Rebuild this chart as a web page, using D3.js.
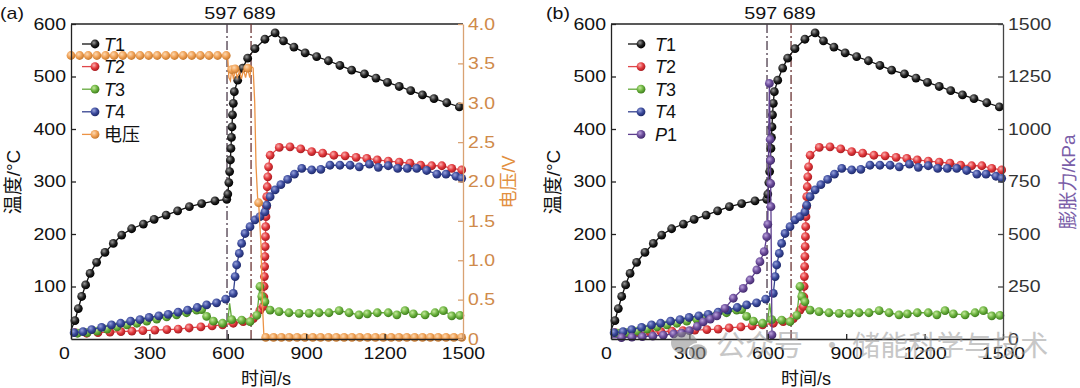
<!DOCTYPE html>
<html><head><meta charset="utf-8">
<script src="https://cdn.jsdelivr.net/npm/d3@7/dist/d3.min.js"></script>
<style>
body{margin:0;background:#fff}
svg{display:block}
text{font-family:"Liberation Sans",Arial,"Noto Sans CJK SC",sans-serif}
</style>
</head><body>
<svg id="chart" width="1080" height="388"></svg>
<script>
// time (s), value, optional 0 = no marker
var T1 = [[0,17,0],[15,35],[28,58],[41,81],[56,103],[73,125],[98,146],[130,165],[162,182],[194,198],[232,210],[277,219],[318,228],[364,236],[408,244],[453,252],[500,258],[551,263],[596,266],
  [600,276],[604,298],[607,319],[610,341],[612,363],[614,384],[616,404],[618,427],[621,449],[625,471],[638,493],[657,516],[676,535],[704,553],[742,571],[781,583],
  [813,568],[853,556],[896,545],[940,538],[985,530],[1029,521],[1074,512],[1123,505],[1167,497],[1211,489],[1256,481],[1300,473],[1345,465],[1389,458],[1438,450],[1486,442],[1500,440,0]];
var T2 = [[0,12,0],[15,12],[60,11],[103,12],[149,13],[191,14],[233,15],[275,16],[321,17],[367,18],[410,19],[452,21],[497,23],[540,25],[580,27],[621,30],[659,33],[698,39],[723,55],
  [736,62],[738,80],[739,100],[740,119],[741,138],[742,157],[743,176],[744,195],[745,214],[746,233],[748,252],[749,271],[751,290],[753,309],[756,328],[762,350],
  [797,365],[838,366],[879,362],[921,357],[963,354],[1006,350],[1049,349],[1091,346],[1132,344],[1172,341],[1214,339],[1256,337],[1297,335],[1338,331],[1380,330],[1419,330],[1457,325],[1495,322],[1500,321,0]];
var T3 = [[0,10,0],[25,11],[62,12],[100,15],[138,19],[176,23],[214,27],[252,30],[290,34],[328,38],[366,42],[404,46],[442,50],[481,55],[500,56],[519,43],[545,34],[580,30],[600,33,0],[607,68,0],[615,37],[653,36],[685,33],[711,45],[723,100],[730,81],[742,71],
  [762,55],[796,52],[834,50],[873,49],[911,49],[949,50],[987,50],[1026,54],[1064,50],[1102,46],[1134,48],[1172,50],[1214,50],[1247,46],[1278,54],[1310,48],[1355,46],[1393,50],[1425,54],[1457,44],[1488,45],[1500,45,0]];
var T4 = [[0,10,0],[12,12],[46,14],[79,18],[117,22],[155,27],[190,30],[228,34],[264,37],[299,41],[336,44],[372,47],[410,51],[446,55],[483,60],[519,65],[557,69],[592,76],[621,87],[628,119],[634,141],[644,163],[653,182],[666,201],[685,214],[704,227],[723,233],[742,242],[749,255],[762,271],[781,284],[803,294],[829,304],[855,314],
  [883,325],[921,322],[956,323],[991,331],[1029,331],[1068,331],[1103,328],[1142,333],[1176,327],[1214,330],[1250,325],[1287,325],[1323,325],[1361,321],[1400,314],[1435,314],[1473,310],[1495,306],[1500,305,0]];
var voltage = [[0,3.6],[33,3.6],[66,3.6],[99,3.6],[132,3.6],[165,3.6],[198,3.6],[231,3.6],[264,3.6],[297,3.6],[330,3.6],[363,3.6],[396,3.6],[429,3.6],[462,3.6],[495,3.6],[528,3.6],[561,3.6],[594,3.6],
  [600,3.56,0],[604,3.32,0],[610,3.28,0],[615,3.42],[622,3.3,0],[628,3.43],[636,3.32,0],[645,3.4,0],[652,3.3,0],[660,3.42,0],[668,3.32,0],[676,3.44],[684,3.32,0],[690,3.46,0],[697,3.44,0],[703,3.0,0],[708,2.2,0],[714,1.8,0],[718,1.73],[727,1.2,0],[733,0.4,0],[738,0.05,0],
  [745,0.02],[775,0.02],[805,0.02],[835,0.02],[865,0.02],[895,0.02],[925,0.02],[955,0.02],[985,0.02],[1015,0.02],[1045,0.02],[1075,0.02],[1105,0.02],[1135,0.02],[1165,0.02],[1195,0.02],[1225,0.02],[1255,0.02],[1285,0.02],[1315,0.02],[1345,0.02],[1375,0.02],[1405,0.02],[1435,0.02],[1465,0.02],[1495,0.02]];
var P1 = [[0,5,0],[40,7],[80,9],[120,11],[160,14],[200,18],[240,24],[270,28],[300,40],[330,60],[353,82],[380,95],[405,110],[436,146],[468,194],[506,241],[532,281],[558,329],[570,368],[586,416],[596,487],[600,546],[603,900,0],[606,1217],[609,950],[610,850],[611,740],[612,630],[614,300,0],[616,20],[620,0,0]];

var xTicks = [0, 300, 600, 900, 1200, 1500];
var tempTicks = [100, 200, 300, 400, 500, 600];
var voltTicks = [0, 0.5, 1, 1.5, 2, 2.5, 3, 3.5, 4];
var pressTicks = [0, 250, 500, 750, 1000, 1250, 1500];
var marks = [597, 689];

var svg = d3.select("#chart");
var defs = svg.append("defs");
var W = 392, H = 315, TOP = 24;

var styles = {
  T1: {c: "#222", hi: "#9a9a9a", lo: "#000", line: "#111"},
  T2: {c: "#e3393d", hi: "#f9b0b0", lo: "#a81d22", line: "#e0474a"},
  T3: {c: "#6cb33f", hi: "#c4e99c", lo: "#3f7e1e", line: "#62a83a"},
  T4: {c: "#3b4a9c", hi: "#97a2dc", lo: "#1f2a6a", line: "#34428f"},
  V:  {c: "#f0a155", hi: "#fcd9b3", lo: "#c77a30", line: "#ec9345"},
  P1: {c: "#6b4c9a", hi: "#bba3dc", lo: "#432b6e", line: "#5e3f8e"}
};

Object.keys(styles).forEach(function(k) {
  var s = styles[k];
  var gr = defs.append("radialGradient").attr("id", "ball" + k)
    .attr("cx", "38%").attr("cy", "35%").attr("r", "65%");
  gr.append("stop").attr("offset", "0%").attr("stop-color", s.hi);
  gr.append("stop").attr("offset", "55%").attr("stop-color", s.c);
  gr.append("stop").attr("offset", "100%").attr("stop-color", s.lo);
});

function stretch(sel, k) {
  sel.each(function() {
    var w = this.getComputedTextLength();
    this.setAttribute("textLength", w * k);
    this.setAttribute("lengthAdjust", "spacingAndGlyphs");
  });
}

function series(g, data, x, y, key) {
  var s = styles[key];
  g.append("path").datum(data)
    .attr("fill", "none").attr("stroke", s.line).attr("stroke-width", 1.3)
    .attr("d", d3.line().x(function(d) { return x(d[0]); }).y(function(d) { return y(d[1]); }));
  g.selectAll(null).data(data.filter(function(d) { return d[2] !== 0; }))
    .enter().append("circle")
    .attr("cx", function(d) { return x(d[0]); })
    .attr("cy", function(d) { return y(d[1]); })
    .attr("r", 4.4)
    .attr("fill", "url(#ball" + key + ")");
}

function styleAxis(a, color, labelColor) {
  a.select(".domain").attr("stroke", color).attr("stroke-width", 1.3);
  a.selectAll(".tick line").attr("stroke", color).attr("stroke-width", 1.3);
  a.selectAll(".tick text").attr("fill", labelColor).style("font-size", "16.5px")
    .style("font-family", '"Liberation Sans", Arial, sans-serif');
  stretch(a.selectAll(".tick text"), 1.18);
}

function panel(left, opts) {
  var g = svg.append("g").attr("transform", "translate(" + left + "," + TOP + ")");
  var x = d3.scaleLinear().domain([0, 1500]).range([0, W]);
  var y = d3.scaleLinear().domain([0, 600]).range([H, 0]);
  var y2 = d3.scaleLinear().domain(opts.rightDomain).range([H, 0]);

  // top frame
  g.append("line").attr("x1", 0).attr("x2", W).attr("y1", 0).attr("y2", 0)
    .attr("stroke", "#222").attr("stroke-width", 1.3);

  // dash-dot markers at 597 s and 689 s
  var markColors = ["#4d3c4c", "#6a3434"];
  marks.forEach(function(m, i) {
    g.append("line").attr("x1", x(m)).attr("x2", x(m)).attr("y1", 0).attr("y2", H)
      .attr("stroke", markColors[i]).attr("stroke-width", 1.3)
      .attr("stroke-dasharray", "9,3,2,3");
  });
  var mt = g.append("text").attr("x", (x(marks[0]) + x(marks[1])) / 2 + 1).attr("y", -5)
    .attr("text-anchor", "middle").attr("fill", "#111").style("font-size", "16.5px")
    .text(marks.join(" "));
  stretch(mt, 1.2);

  series(g, T1, x, y, "T1");
  series(g, T2, x, y, "T2");
  series(g, T3, x, y, "T3");
  series(g, T4, x, y, "T4");
  series(g, opts.rightData, x, y2, opts.rightKey);

  var ax = g.append("g").attr("transform", "translate(0," + H + ")")
    .call(d3.axisBottom(x).tickValues(xTicks).tickFormat(d3.format("d"))
      .tickSizeInner(-5).tickSizeOuter(0).tickPadding(8));
  styleAxis(ax, "#222", "#111");
  ax.selectAll(".tick text").filter(function(d) { return d === 0; }).attr("x", opts.zeroShift);

  var ay = g.append("g")
    .call(d3.axisLeft(y).tickValues(tempTicks).tickSizeInner(-5).tickSizeOuter(0).tickPadding(5));
  styleAxis(ay, "#222", "#111");

  var ar = g.append("g").attr("transform", "translate(" + W + ",0)")
    .call(d3.axisRight(y2).tickValues(opts.rightTicks).tickFormat(opts.rightFormat)
      .tickSizeInner(-5).tickSizeOuter(0).tickPadding(5));
  styleAxis(ar, opts.rightAxisColor, opts.rightTextColor);

  // axis titles
  g.append("text").attr("transform", "translate(" + opts.leftTitleX + "," + (182 - TOP) + ") rotate(-90)")
    .attr("text-anchor", "middle").attr("fill", "#111").style("font-size", "19px").text("温度/°C");
  g.append("text").attr("x", W / 2 - 1).attr("y", 385 - TOP)
    .attr("text-anchor", "middle").attr("fill", "#111").style("font-size", "18px").text("时间/s");
  g.append("text").attr("transform", "translate(" + opts.rightTitleX + "," + (182 - TOP) + ") rotate(-90)")
    .attr("text-anchor", "middle").attr("fill", opts.rightTitleColor).style("font-size", opts.rightTitleSize)
    .text(opts.rightTitle);

  // legend
  var names = [["T", "1", "T1"], ["T", "2", "T2"], ["T", "3", "T3"], ["T", "4", "T4"], opts.lastLegend];
  names.forEach(function(n, i) {
    var ly = 44 - TOP + i * 22.6;
    var s = styles[n[2]];
    var lg = g.append("g");
    lg.append("line").attr("x1", opts.legX).attr("x2", opts.legX + 13).attr("y1", ly).attr("y2", ly)
      .attr("stroke", s.line).attr("stroke-width", 1.3);
    lg.append("circle").attr("cx", opts.legX + 13).attr("cy", ly).attr("r", 4.4)
      .attr("fill", "url(#ball" + n[2] + ")");
    var t = lg.append("text").attr("x", opts.legX + opts.legTextDx).attr("y", ly + 6.5)
      .attr("fill", "#111").style("font-size", "18px");
    if (n[0]) t.append("tspan").style("font-style", "italic").text(n[0]);
    t.append("tspan").text(n[1]);
  });

  var pl = svg.append("text").attr("x", opts.tagX).attr("y", 19).attr("fill", "#111")
    .style("font-size", "17px").text(opts.tag);
  stretch(pl, 1.15);
  return g;
}

panel(71, {
  rightDomain: [0, 4], rightData: voltage, rightKey: "V", rightTicks: voltTicks,
  rightFormat: function(d) { return d === 0 ? "0" : d3.format(".1f")(d); },
  rightAxisColor: "#d9a273", rightTextColor: "#cf8a4a",
  rightTitle: "电压/V", rightTitleColor: "#e28f3f", rightTitleX: 444, rightTitleSize: "18px",
  lastLegend: ["", "电压", "V"], legX: 11, legTextDx: 22, tag: "(a)", tagX: 0,
  zeroShift: -7, leftTitleX: -51
});

panel(611, {
  rightDomain: [0, 1500], rightData: P1, rightKey: "P1", rightTicks: pressTicks,
  rightFormat: d3.format("d"),
  rightAxisColor: "#444", rightTextColor: "#333",
  rightTitle: "膨胀力/kPa", rightTitleColor: "#7a5ea8", rightTitleX: 464, rightTitleSize: "19px",
  lastLegend: ["P", "1", "P1"], legX: 17, legTextDx: 27, tag: "(b)", tagX: 546,
  zeroShift: -5, leftTitleX: -51
});

// watermark
var wm = svg.append("g").attr("opacity", 0.55);
wm.append("ellipse").attr("cx", 684).attr("cy", 343).attr("rx", 13).attr("ry", 11).attr("fill", "#8a8a8a");
wm.append("ellipse").attr("cx", 698).attr("cy", 352).attr("rx", 10).attr("ry", 8.5).attr("fill", "#8a8a8a").attr("stroke", "#fff").attr("stroke-width", 1.5);
wm.append("text").attr("x", 716).attr("y", 356).attr("fill", "#9a9a9a")
  .style("font-family", '"Noto Sans CJK SC", sans-serif').style("font-size", "29px").text("公众号");
wm.append("text").attr("x", 818).attr("y", 356).attr("fill", "#9a9a9a")
  .style("font-family", '"Noto Sans CJK SC", sans-serif').style("font-size", "28px").text("· 储能科学与技术");
</script>
</body></html>
